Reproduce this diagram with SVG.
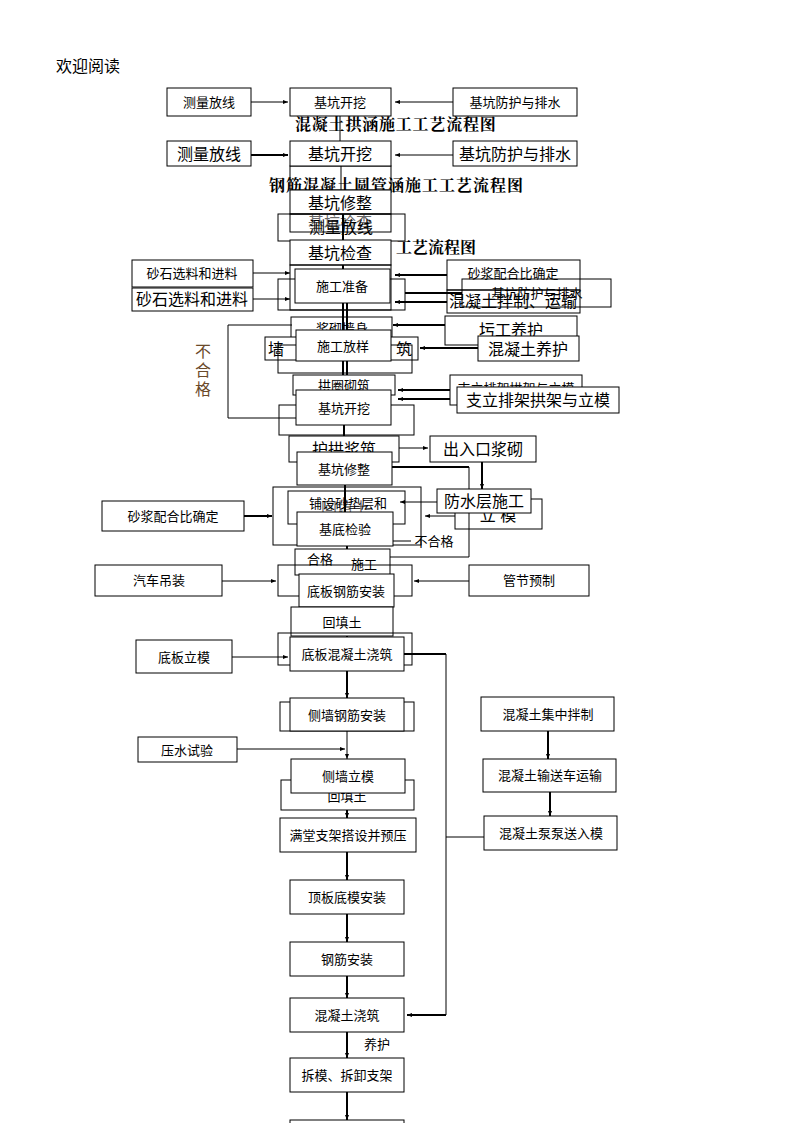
<svg xmlns="http://www.w3.org/2000/svg" width="794" height="1123" viewBox="0 0 794 1123">
<defs>
<style>
.b{fill:#fff;stroke:#000;stroke-width:1}
.o{fill:none;stroke:#000;stroke-width:1}
.t{font-family:"Liberation Sans","Noto Sans CJK SC",sans-serif;font-size:13px;fill:#000;text-anchor:middle}
.tl{font-family:"Liberation Sans","Noto Sans CJK SC",sans-serif;font-size:16px;fill:#000;text-anchor:middle}
.ti{font-family:"Liberation Serif","Noto Serif CJK SC","Noto Sans CJK SC",serif;font-size:16px;font-weight:bold;fill:#000}
.c{fill:none;stroke:#000;stroke-width:1}
.k{fill:none;stroke:#000;stroke-width:2}
</style>
<marker id="a" markerWidth="6" markerHeight="6" refX="5" refY="3" orient="auto" markerUnits="userSpaceOnUse"><path d="M0,1 L5,3 L0,5 z" fill="#000"/></marker>
</defs>
<rect width="794" height="1123" fill="#fff"/>
<text x="56" y="72" style="font-family:'Liberation Sans','Noto Sans CJK SC',sans-serif;font-size:16px">欢迎阅读</text>

<g id="connectors">
<line class="c" x1="251" y1="102" x2="288" y2="102" marker-end="url(#a)"/>
<line class="c" x1="453" y1="102" x2="395" y2="102" marker-end="url(#a)"/>
<line class="c" x1="340" y1="116" x2="340" y2="141"/>
<line class="k" x1="251" y1="155" x2="288" y2="155" marker-end="url(#a)"/>
<line class="c" x1="453" y1="155" x2="395" y2="155" marker-end="url(#a)"/>
<line class="c" x1="341" y1="166" x2="341" y2="190"/>
<line class="k" x1="343" y1="214" x2="343" y2="269"/>
<line class="c" x1="253" y1="273" x2="290" y2="273" marker-end="url(#a)"/>
<line class="c" x1="253" y1="299" x2="290" y2="299" marker-end="url(#a)"/>
<line class="k" x1="447" y1="275" x2="395" y2="275" marker-end="url(#a)"/>
<line class="k" x1="462" y1="293" x2="405" y2="293"/>
<line class="k" x1="447" y1="302" x2="395" y2="302" marker-end="url(#a)"/>
<line class="k" x1="343" y1="303" x2="343" y2="330"/>
<line class="k" x1="347" y1="303" x2="347" y2="330"/>
<line class="k" x1="445" y1="325" x2="393" y2="325" marker-end="url(#a)"/>
<line class="k" x1="478" y1="348" x2="420" y2="348" marker-end="url(#a)"/>
<line class="c" x1="292" y1="325" x2="228" y2="325"/>
<line class="c" x1="228" y1="325" x2="228" y2="418"/>
<line class="c" x1="228" y1="418" x2="296" y2="418"/>
<line class="k" x1="343" y1="361" x2="343" y2="390"/>
<line class="k" x1="347" y1="361" x2="347" y2="390"/>
<line class="k" x1="450" y1="390" x2="398" y2="390" marker-end="url(#a)"/>
<line class="k" x1="457" y1="399" x2="398" y2="399" marker-end="url(#a)"/>
<line class="k" x1="344" y1="425" x2="344" y2="452"/>
<line class="c" x1="399" y1="448" x2="428" y2="448" marker-end="url(#a)"/>
<line class="k" x1="482" y1="462" x2="482" y2="489" marker-end="url(#a)"/>
<line class="k" x1="392" y1="467" x2="469" y2="467"/>
<line class="c" x1="469" y1="467" x2="469" y2="557"/>
<line class="c" x1="469" y1="557" x2="390" y2="557"/>
<line class="k" x1="345" y1="485" x2="345" y2="512"/>
<line class="c" x1="437" y1="502" x2="400" y2="502" marker-end="url(#a)"/>
<line class="c" x1="455" y1="516" x2="425" y2="516" marker-end="url(#a)"/>
<line class="k" x1="244" y1="516" x2="272" y2="516" marker-end="url(#a)"/>
<line class="c" x1="393" y1="541" x2="411" y2="541"/>
<line class="k" x1="347" y1="546" x2="347" y2="574"/>
<line class="c" x1="222" y1="581" x2="276" y2="581" marker-end="url(#a)"/>
<line class="c" x1="469" y1="581" x2="414" y2="581" marker-end="url(#a)"/>
<line class="k" x1="347" y1="607" x2="347" y2="637"/>
<line class="c" x1="232" y1="657" x2="288" y2="657" marker-end="url(#a)"/>
<line class="k" x1="404" y1="654" x2="446" y2="654"/>
<line class="c" x1="446" y1="654" x2="446" y2="1015"/>
<line class="k" x1="446" y1="1015" x2="407" y2="1015" marker-end="url(#a)"/>
<line class="k" x1="347" y1="671" x2="347" y2="698" marker-end="url(#a)"/>
<line class="c" x1="237" y1="749" x2="345" y2="749" marker-end="url(#a)"/>
<line class="c" x1="347" y1="731" x2="347" y2="759" marker-end="url(#a)"/>
<line class="k" x1="347" y1="793" x2="347" y2="818" marker-end="url(#a)"/>
<line class="k" x1="347" y1="852" x2="347" y2="880" marker-end="url(#a)"/>
<line class="k" x1="347" y1="914" x2="347" y2="942" marker-end="url(#a)"/>
<line class="k" x1="347" y1="976" x2="347" y2="998" marker-end="url(#a)"/>
<line class="k" x1="347" y1="1032" x2="347" y2="1058" marker-end="url(#a)"/>
<line class="k" x1="347" y1="1092" x2="347" y2="1120" marker-end="url(#a)"/>
<line class="k" x1="548" y1="731" x2="548" y2="759" marker-end="url(#a)"/>
<line class="k" x1="550" y1="792" x2="550" y2="816" marker-end="url(#a)"/>
<line class="c" x1="446" y1="837" x2="484" y2="837"/>
</g>

<g id="title1"><text class="ti" x="295" y="130" letter-spacing="0.8">混凝土拱涵施工工艺流程图</text></g>
<g id="n1"><rect class="b" x="167" y="88" width="84" height="28"/><text class="t" x="209" y="107">测量放线</text></g>
<g id="n2"><rect class="b" x="290" y="88" width="101" height="28"/><text class="t" x="340" y="107">基坑开挖</text></g>
<g id="n3"><rect class="b" x="453" y="88" width="124" height="28"/><text class="t" x="515" y="107">基坑防护与排水</text></g>

<g id="title2"><text class="ti" x="269" y="191" letter-spacing="1">钢筋混凝土圆管涵施工工艺流程图</text></g>
<g id="n4"><rect class="b" x="167" y="141" width="84" height="25"/><text class="tl" x="209" y="160">测量放线</text></g>
<g id="n5"><rect class="o" x="290" y="166" width="101" height="24"/><rect class="b" x="290" y="141" width="101" height="25"/><text class="tl" x="340" y="160">基坑开挖</text></g>
<g id="n6"><rect class="b" x="453" y="141" width="124" height="25"/><text class="tl" x="515" y="160">基坑防护与排水</text></g>

<g id="n7"><rect class="b" x="290" y="190" width="101" height="24"/><text class="tl" x="340" y="209">基坑修整</text></g>
<g id="n8"><rect class="o" x="278" y="214" width="127" height="27"/><rect class="o" x="290" y="214" width="101" height="18"/><text class="tl" x="340" y="228" fill-opacity="0.6">基坑检查</text><text class="tl" x="341" y="233">测量放线</text></g>
<g id="title3"><text class="ti" x="396" y="253">工艺流程图</text></g>
<g id="n9"><rect class="b" x="290" y="240" width="101" height="25"/><text class="tl" x="340" y="259">基坑检查</text></g>

<g id="n10"><rect class="o" x="290" y="265" width="101" height="45"/><rect class="o" x="278" y="279" width="127" height="31"/><rect class="b" x="295" y="269" width="95" height="34"/><text class="t" x="342" y="291">施工准备</text></g>
<g id="n11"><rect class="b" x="132" y="260" width="121" height="27"/><text class="t" x="192" y="278">砂石选料和进料</text></g>
<g id="n12"><rect class="b" x="132" y="288" width="121" height="23"/><text class="tl" x="192" y="305">砂石选料和进料</text></g>
<g id="n13"><rect class="b" x="447" y="260" width="133" height="30"/><text class="t" x="513" y="278">砂浆配合比确定</text></g>
<g id="n14"><rect class="o" x="447" y="290" width="133" height="23"/><text class="tl" x="513" y="307">混凝土拌制、运输</text><rect class="o" x="462" y="279" width="149" height="28"/><text class="t" x="537" y="298">基坑防护与排水</text></g>

<g id="n15"><rect class="o" x="291" y="317" width="101" height="22"/><text class="t" x="342" y="333">浆砌墙身</text><rect class="b" x="445" y="316" width="132" height="29"/><text class="tl" x="511" y="336">圬工养护</text></g>
<g id="n16"><rect class="b" x="265" y="337" width="153" height="23"/><text class="tl" x="348" y="355" letter-spacing="16">墙身浆砌筑</text><rect class="o" x="278" y="345" width="134" height="28"/></g>
<g id="n17"><rect class="b" x="296" y="330" width="95" height="31"/><text class="t" x="343" y="351">施工放样</text></g>
<g id="n18"><rect class="b" x="478" y="336" width="101" height="25"/><text class="tl" x="528" y="355">混凝土养护</text></g>
<g id="nohege"><text x="203" y="357" style="font-family:'Liberation Sans','Noto Sans CJK SC',sans-serif;font-size:16px;fill:#6b4a2a;text-anchor:middle">不</text><text x="203" y="376" style="font-family:'Liberation Sans','Noto Sans CJK SC',sans-serif;font-size:16px;fill:#6b4a2a;text-anchor:middle">合</text><text x="203" y="395" style="font-family:'Liberation Sans','Noto Sans CJK SC',sans-serif;font-size:16px;fill:#6b4a2a;text-anchor:middle">格</text></g>

<g id="n19"><rect class="b" x="293" y="375" width="102" height="20"/><text class="t" x="344" y="390">拱圈砌筑</text><rect class="b" x="450" y="375" width="132" height="30"/><text class="t" x="516" y="393">支立排架拱架与立模</text></g>
<g id="n20"><rect class="o" x="279" y="405" width="135" height="30"/><rect class="b" x="296" y="390" width="95" height="35"/><text class="t" x="344" y="413">基坑开挖</text></g>
<g id="n21"><rect class="b" x="457" y="387" width="162" height="26"/><text class="tl" x="538" y="406">支立排架拱架与立模</text></g>

<g id="n22"><rect class="b" x="289" y="436" width="110" height="26"/><text class="tl" x="344" y="455">护拱浆筑</text></g>
<g id="n23"><rect class="b" x="430" y="436" width="106" height="26"/><text class="tl" x="483" y="455">出入口浆砌</text></g>
<g id="n24"><rect class="b" x="297" y="452" width="95" height="33"/><text class="t" x="344" y="474">基坑修整</text></g>
<g id="n25"><rect class="o" x="273" y="487" width="148" height="58"/><rect class="o" x="288" y="491" width="117" height="33"/><text class="t" x="348" y="508">铺设砂垫层和</text><text class="tl" x="345" y="514" fill-opacity="0.6">回填土</text></g>
<g id="n26"><rect class="o" x="455" y="499" width="87" height="30"/><text class="tl" x="498" y="521">立  模</text><rect class="b" x="437" y="489" width="94" height="24"/><text class="tl" x="484" y="507">防水层施工</text></g>
<g id="n27"><rect class="b" x="102" y="501" width="142" height="30"/><text class="t" x="173" y="521">砂浆配合比确定</text></g>
<g id="n28"><rect class="b" x="297" y="512" width="96" height="34"/><text class="t" x="345" y="534">基底检验</text></g>
<text class="t" x="434" y="546">不合格</text>
<g id="n29"><rect class="b" x="295" y="549" width="95" height="26"/><text class="t" x="320" y="564">合格</text><text class="t" x="364" y="569">施工</text></g>

<g id="n30"><rect class="b" x="95" y="565" width="127" height="31"/><text class="t" x="159" y="585">汽车吊装</text></g>
<g id="n31"><rect class="o" x="278" y="565" width="134" height="31"/></g>
<g id="n32"><rect class="b" x="469" y="565" width="120" height="31"/><text class="t" x="529" y="585">管节预制</text></g>
<g id="n33"><rect class="b" x="299" y="574" width="95" height="33"/><text class="t" x="346" y="596">底板钢筋安装</text></g>
<g id="n34"><rect class="b" x="291" y="607" width="102" height="29"/><text class="t" x="342" y="627">回填土</text></g>
<g id="n35"><rect class="o" x="278" y="633" width="134" height="32"/><rect class="b" x="290" y="637" width="114" height="34"/><text class="t" x="347" y="659">底板混凝土浇筑</text></g>
<g id="n36"><rect class="b" x="136" y="640" width="96" height="33"/><text class="t" x="184" y="662">底板立模</text></g>

<g id="n37"><rect class="o" x="280" y="702" width="134" height="29"/><rect class="b" x="290" y="698" width="114" height="33"/><text class="t" x="347" y="720">侧墙钢筋安装</text></g>
<g id="n38"><rect class="b" x="138" y="737" width="99" height="25"/><text class="t" x="187" y="755">压水试验</text></g>
<g id="n39"><rect class="b" x="281" y="780" width="133" height="30"/><text class="t" x="347" y="801">回填土</text><rect class="b" x="291" y="759" width="114" height="34"/><text class="t" x="348" y="781">侧墙立模</text></g>
<g id="n40"><rect class="b" x="280" y="818" width="136" height="34"/><text class="t" x="348" y="840">满堂支架搭设并预压</text></g>
<g id="n41"><rect class="b" x="290" y="880" width="114" height="34"/><text class="t" x="347" y="902">顶板底模安装</text></g>
<g id="n42"><rect class="b" x="290" y="942" width="114" height="34"/><text class="t" x="347" y="964">钢筋安装</text></g>
<g id="n43"><rect class="b" x="290" y="998" width="114" height="34"/><text class="t" x="347" y="1020">混凝土浇筑</text></g>
<text class="t" x="377" y="1049">养护</text>
<g id="n44"><rect class="b" x="290" y="1058" width="114" height="34"/><text class="t" x="347" y="1080">拆模、拆卸支架</text></g>
<g id="n45"><rect class="b" x="290" y="1120" width="114" height="10"/></g>
<g id="n46"><rect class="b" x="481" y="697" width="133" height="34"/><text class="t" x="548" y="719">混凝土集中拌制</text></g>
<g id="n47"><rect class="b" x="483" y="759" width="133" height="33"/><text class="t" x="550" y="780">混凝土输送车运输</text></g>
<g id="n48"><rect class="b" x="484" y="816" width="133" height="34"/><text class="t" x="551" y="838">混凝土泵泵送入模</text></g>
</svg>
